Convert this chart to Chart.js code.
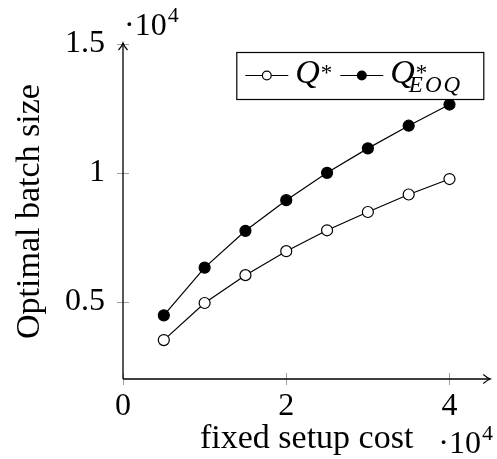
<!DOCTYPE html>
<html>
<head>
<meta charset="utf-8">
<script src="https://cdn.jsdelivr.net/npm/chart.js@4/dist/chart.umd.min.js"></script>
<style>
  html, body { margin: 0; padding: 0; background: #fff; }
  #wrap { width: 497px; height: 459px; }
</style>
</head>
<body>
<div id="wrap"><canvas id="chart" width="497" height="459"></canvas></div>
<script>
// values
const setupCost = [5000, 10000, 15000, 20000, 25000, 30000, 35000, 40000];
const qStar = [3510, 4950, 6030, 6960, 7770, 8480, 9160, 9760];
const qEoq = [4470, 6320, 7750, 8940, 10000, 10950, 11830, 12650];
const xTickValues = [0, 20000, 40000];
const xTickLabels = ['0', '2', '4'];
const yTickValues = [5000, 10000, 15000];
const yTickLabels = ['0.5', '1', '1.5'];
const seriesLabels = ['Q*', 'Q*EOQ'];
const legendParts = [
    { base: 'Q', sup: '*', sub: '' },
    { base: 'Q', sup: '*', sub: 'EOQ' }
];

const SERIF = '"Liberation Serif", "DejaVu Serif", serif';

function toPoints(ys) {
    return setupCost.map((x, i) => ({ x: x, y: ys[i] }));
}

// axis lines with arrows, ticks across the axes, the 10^4 marks and the legend
const axisDecor = {
    id: 'axisDecor',
    afterDraw(chart) {
        const ctx = chart.ctx;
        const xs = chart.scales.x;
        const ys = chart.scales.y;
        const a = chart.chartArea;
        ctx.save();

        // ticks
        ctx.strokeStyle = '#a0a0a0';
        ctx.lineWidth = 1;
        ctx.beginPath();
        xTickValues.forEach(v => {
            const px = Math.round(xs.getPixelForValue(v)) + 0.5;
            ctx.moveTo(px, a.bottom - 6);
            ctx.lineTo(px, a.bottom + 6);
        });
        yTickValues.forEach(v => {
            const py = Math.round(ys.getPixelForValue(v)) + 0.5;
            ctx.moveTo(a.left - 6, py);
            ctx.lineTo(a.left + 6, py);
        });
        ctx.stroke();

        // axes
        ctx.strokeStyle = '#000';
        ctx.lineWidth = 1.3;
        ctx.beginPath();
        ctx.moveTo(a.left, a.bottom);
        ctx.lineTo(a.right, a.bottom);
        ctx.moveTo(a.left, a.bottom);
        ctx.lineTo(a.left, a.top - 1);
        ctx.stroke();

        // arrow heads
        ctx.lineWidth = 1.2;
        ctx.beginPath();
        ctx.moveTo(a.right - 7, a.bottom - 4.5);
        ctx.quadraticCurveTo(a.right - 3, a.bottom - 1, a.right, a.bottom);
        ctx.quadraticCurveTo(a.right - 3, a.bottom + 1, a.right - 7, a.bottom + 4.5);
        ctx.moveTo(a.left - 4.5, a.top + 6);
        ctx.quadraticCurveTo(a.left - 1, a.top + 2, a.left, a.top - 1);
        ctx.quadraticCurveTo(a.left + 1, a.top + 2, a.left + 4.5, a.top + 6);
        ctx.stroke();

        // multipliers
        ctx.fillStyle = '#000';
        ctx.textBaseline = 'alphabetic';
        ctx.textAlign = 'left';
        function drawMult(x, y) {
            ctx.font = '32px ' + SERIF;
            ctx.fillText('\u00B710', x, y);
            const w = ctx.measureText('\u00B710').width;
            ctx.font = '22px ' + SERIF;
            ctx.fillText('4', x + w + 1, y - 13);
        }
        drawMult(a.left + 1, a.top - 9);
        drawMult(a.right - 52, 453);

        // legend
        const bw = 247, bh = 47;
        const bx = a.right - 254, by = a.top + 8;
        ctx.fillStyle = '#fff';
        ctx.fillRect(bx, by, bw, bh);
        ctx.strokeStyle = '#000';
        ctx.lineWidth = 1.2;
        ctx.strokeRect(bx + 0.5, by + 0.5, bw, bh);

        const cy = by + 23.5;
        const starts = [bx + 9, bx + 104];
        chart.data.datasets.forEach((ds, i) => {
            const sx = starts[i];
            ctx.strokeStyle = '#000';
            ctx.lineWidth = 1.2;
            ctx.beginPath();
            ctx.moveTo(sx, cy);
            ctx.lineTo(sx + 43, cy);
            ctx.stroke();
            ctx.beginPath();
            ctx.arc(sx + 21.5, cy, 4.4, 0, Math.PI * 2);
            ctx.fillStyle = ds.pointBackgroundColor;
            ctx.fill();
            ctx.stroke();

            const p = legendParts[i];
            const tx = sx + 50;
            ctx.fillStyle = '#000';
            ctx.font = 'italic 34px ' + SERIF;
            ctx.fillText(p.base, tx, cy + 7);
            const qw = ctx.measureText(p.base).width;
            ctx.font = '23px ' + SERIF;
            ctx.fillText(p.sup, tx + qw + 1, cy + 4);
            if (p.sub) {
                ctx.font = 'italic 23px ' + SERIF;
                ctx.letterSpacing = '2px';
                ctx.fillText(p.sub, tx + qw - 6, cy + 16);
                ctx.letterSpacing = '0px';
            }
        });

        ctx.restore();
    }
};

const ctx = document.getElementById('chart').getContext('2d');
new Chart(ctx, {
    type: 'line',
    data: {
        datasets: [
            {
                label: seriesLabels[0],
                data: toPoints(qStar),
                borderColor: '#000',
                borderWidth: 1.2,
                pointRadius: 5.5,
                pointBorderWidth: 1.2,
                pointBackgroundColor: '#fff',
                pointBorderColor: '#000',
                tension: 0,
                fill: false
            },
            {
                label: seriesLabels[1],
                data: toPoints(qEoq),
                borderColor: '#000',
                borderWidth: 1.2,
                pointRadius: 5.5,
                pointBorderWidth: 1.2,
                pointBackgroundColor: '#000',
                pointBorderColor: '#000',
                tension: 0,
                fill: false
            }
        ]
    },
    options: {
        responsive: false,
        devicePixelRatio: 1,
        animation: false,
        clip: false,
        layout: { padding: { left: 0, top: 44, right: 2, bottom: 0 } },
        plugins: {
            legend: { display: false },
            tooltip: { enabled: false }
        },
        scales: {
            x: {
                type: 'linear',
                min: 0,
                max: 45000,
                border: { display: false },
                grid: { display: false, drawTicks: false },
                afterBuildTicks: scale => {
                    scale.ticks = xTickValues.map(v => ({ value: v }));
                },
                afterFit: scale => { scale.height = 80; },
                ticks: {
                    padding: 8,
                    color: '#000',
                    font: { family: SERIF, size: 32 },
                    maxRotation: 0,
                    autoSkip: false,
                    callback: (v, i) => xTickLabels[i]
                },
                title: {
                    display: true,
                    text: 'fixed setup cost',
                    color: '#000',
                    font: { family: SERIF, size: 34 },
                    padding: { top: 0, bottom: 0 }
                }
            },
            y: {
                type: 'linear',
                min: 2000,
                max: 15000,
                border: { display: false },
                grid: { display: false, drawTicks: false },
                afterBuildTicks: scale => {
                    scale.ticks = yTickValues.map(v => ({ value: v }));
                },
                afterFit: scale => { scale.width = 123; },
                ticks: {
                    padding: 18,
                    color: '#000',
                    font: { family: SERIF, size: 32 },
                    autoSkip: false,
                    callback: (v, i) => yTickLabels[i]
                },
                title: {
                    display: true,
                    text: 'Optimal batch size',
                    color: '#000',
                    font: { family: SERIF, size: 34 },
                    padding: { top: 10, bottom: 0 }
                }
            }
        }
    },
    plugins: [axisDecor]
});
</script>
</body>
</html>
